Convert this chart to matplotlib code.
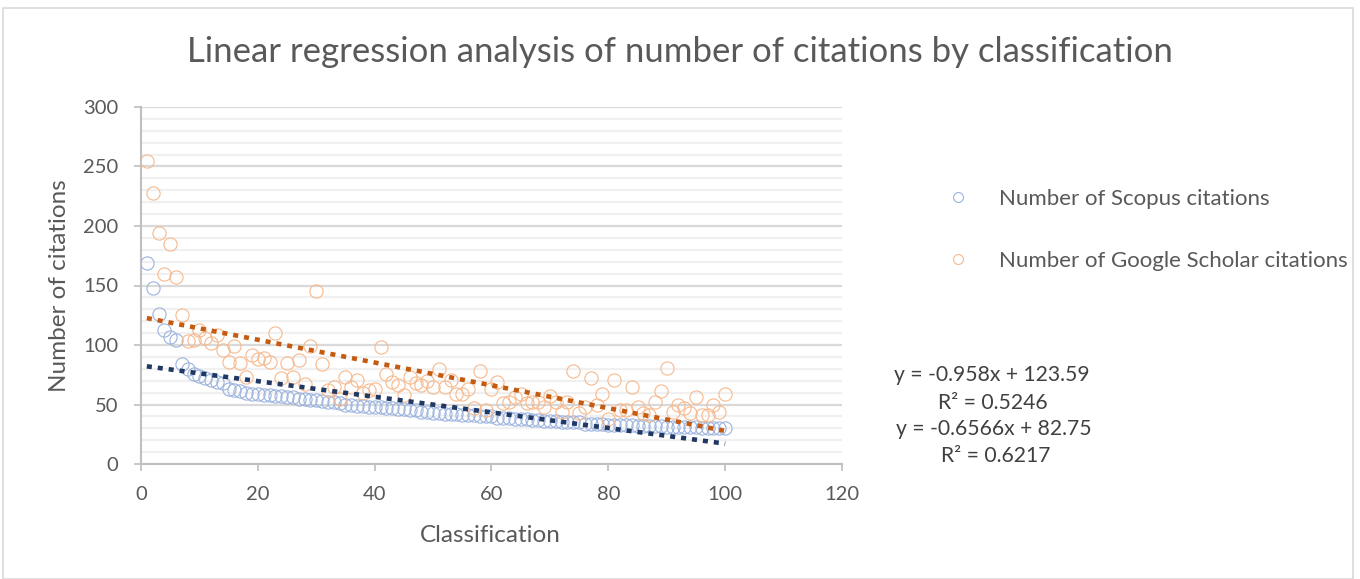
import numpy as np
import matplotlib
matplotlib.use("Agg")
import matplotlib.pyplot as plt
from matplotlib.patches import Rectangle
from matplotlib.ticker import MultipleLocator

plt.rcParams['font.family'] = ['Lato', 'DejaVu Sans']

title = "Linear regression analysis of number of citations by classification"
x_label = "Classification"
y_label = "Number of citations"
series_names = ["Number of Scopus citations", "Number of Google Scholar citations"]

classification = list(range(1, 101))

scopus = [169, 148, 126, 113, 107, 104, 84, 80, 76, 74,
          72, 71, 69, 68, 63, 62, 61, 60, 59, 59,
          58, 58, 57, 57, 56, 56, 55, 55, 54, 54,
          53, 52, 52, 51, 50, 50, 49, 49, 48, 48,
          48, 47, 47, 46, 46, 45, 45, 44, 44, 43,
          43, 42, 42, 42, 41, 41, 41, 40, 40, 40,
          39, 39, 39, 38, 38, 38, 37, 37, 36, 36,
          36, 35, 35, 35, 35, 34, 34, 34, 34, 33,
          33, 33, 33, 33, 32, 32, 32, 32, 32, 31,
          31, 31, 31, 31, 31, 30, 30, 30, 30, 30]

scholar = [255, 228, 194, 160, 185, 157, 125, 103, 104, 113,
           106, 102, 108, 96, 86, 99, 85, 73, 92, 88,
           89, 86, 110, 72, 85, 73, 87, 67, 99, 145,
           84, 62, 65, 55, 73, 65, 71, 60, 62, 63,
           98, 76, 69, 66, 58, 73, 68, 66, 70, 65,
           80, 65, 71, 59, 59, 63, 47, 78, 45, 63,
           69, 51, 52, 56, 59, 51, 52, 52, 48, 57,
           52, 44, 52, 78, 43, 48, 72, 50, 59, 38,
           71, 45, 45, 65, 48, 43, 41, 52, 61, 81,
           44, 50, 47, 43, 56, 41, 41, 50, 44, 59]

# trendline coefficients as printed on the chart
scholar_fit = (-0.958, 123.59, 0.5246)
scopus_fit = (-0.6566, 82.75, 0.6217)

x_ticks = [0, 20, 40, 60, 80, 100, 120]
y_ticks = [0, 50, 100, 150, 200, 250, 300]

fig = plt.figure(figsize=(13.6, 5.79), dpi=100)
fig.patch.set_facecolor("white")
fig.patches.append(Rectangle((3 / 1360, 0), 1350 / 1360, 1 - 8 / 579, transform=fig.transFigure,
                             fill=False, edgecolor="#d9d9d9", linewidth=1.2))

ax = fig.add_axes([141 / 1360, 1 - 464 / 579, 701 / 1360, 357 / 579])

ax.set_xlim(0, 120)
ax.set_ylim(0, 300)
ax.set_xticks(x_ticks)
ax.set_yticks(y_ticks)
ax.yaxis.set_minor_locator(MultipleLocator(10))
ax.grid(True, which="minor", axis="y", color="#f0f0f0", linewidth=1.6, zorder=0)
ax.grid(True, which="major", axis="y", color="#d9d9d9", linewidth=1.6, zorder=0)
ax.tick_params(axis="y", which="minor", length=0)
ax.tick_params(axis="both", which="major", length=5.2, width=1.2, color="#bfbfbf",
               labelsize=14.5, labelcolor="#595959", pad=11)
for s in ["top", "right"]:
    ax.spines[s].set_visible(False)
for s in ["left", "bottom"]:
    ax.spines[s].set_color("#bfbfbf")
    ax.spines[s].set_linewidth(1.5)
ax.set_axisbelow(True)

ms = 9.5
ax.plot(classification, scopus, linestyle="none", marker="o", markersize=ms,
        markerfacecolor="none", markeredgecolor="#9cb3df", markeredgewidth=0.8,
        label=series_names[0], zorder=3)
ax.plot(classification, scholar, linestyle="none", marker="o", markersize=ms,
        markerfacecolor="none", markeredgecolor="#f6b98e", markeredgewidth=0.8,
        label=series_names[1], zorder=3)

xs = np.array([classification[0], classification[-1]])
ax.plot(xs, scholar_fit[0] * xs + scholar_fit[1], color="#c55a11", linewidth=3.3,
        dashes=(1.1, 1.3), dash_capstyle="butt", zorder=4)
ax.plot(xs, scopus_fit[0] * xs + scopus_fit[1], color="#203864", linewidth=3.3,
        dashes=(1.1, 1.3), dash_capstyle="butt", zorder=4)

ax.set_xlabel(x_label, fontsize=17.5, color="#595959")
ax.xaxis.set_label_coords((490 - 141) / 701, (464 - 535) / 357)
ax.xaxis.label.set_va("center")
ax.set_ylabel(y_label, fontsize=17.5, color="#595959")
ax.yaxis.set_label_coords((60 - 141) / 701, (464 - 286) / 357)
ax.yaxis.label.set_va("center")

fig.text(680 / 1360, 1 - 52 / 579, title, ha="center", va="center", fontsize=25, color="#595959")

leg = ax.legend(loc="center left", bbox_to_anchor=(938 / 1360, 1 - 230 / 579),
                bbox_transform=fig.transFigure, frameon=False, fontsize=16,
                labelspacing=1.9, handlelength=1.0, handletextpad=1.35, markerscale=0.75,
                borderaxespad=0)
for t in leg.get_texts():
    t.set_color("#595959")


def eq_text(m, b):
    return f"y = {m:g}x + {b:g}"


fs_eq = 15.2
fig.text(992 / 1360, 1 - 375 / 579, eq_text(scholar_fit[0], scholar_fit[1]), ha="center", va="center",
         fontsize=fs_eq, color="#404040")
fig.text(993 / 1360, 1 - 403 / 579, f"R² = {scholar_fit[2]:.4f}", ha="center", va="center",
         fontsize=fs_eq, color="#404040")
fig.text(994 / 1360, 1 - 429 / 579, eq_text(scopus_fit[0], scopus_fit[1]), ha="center", va="center",
         fontsize=fs_eq, color="#404040")
fig.text(996 / 1360, 1 - 456 / 579, f"R² = {scopus_fit[2]:.4f}", ha="center", va="center",
         fontsize=fs_eq, color="#404040")

fig.savefig("out.png", dpi=100)
